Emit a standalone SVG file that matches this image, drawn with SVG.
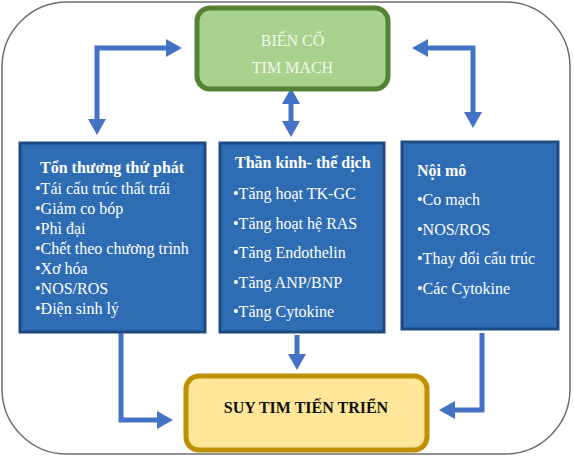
<svg xmlns="http://www.w3.org/2000/svg" width="574" height="460" viewBox="0 0 574 460">
<defs>
<style>
.blue{fill:#2e6cb4;stroke:#1d4a80;stroke-width:3}
.t{font-family:"Liberation Serif","Times New Roman",serif;font-size:16px;fill:#ffffff}
.b{font-weight:bold}
.arr{fill:none;stroke:#4472c4;stroke-width:5;stroke-linejoin:miter}
</style>
<marker id="ah" markerUnits="userSpaceOnUse" markerWidth="16" markerHeight="18" refX="4" refY="9" orient="auto-start-reverse" viewBox="0 0 16 18">
<path d="M0,0 L16,9 L0,18 z" fill="#4472c4"/>
</marker>
</defs>
<rect x="2" y="2" width="568" height="452" rx="65" ry="65" fill="#ffffff" stroke="#6b6f75" stroke-width="1.5"/>
<g id="connectors">
<path class="arr" d="M97,123 V48 H170" marker-start="url(#ah)" marker-end="url(#ah)"/>
<path class="arr" d="M291,100 V125" marker-start="url(#ah)" marker-end="url(#ah)"/>
<path class="arr" d="M424,48 H473 V116" marker-start="url(#ah)" marker-end="url(#ah)"/>
<path class="arr" d="M121,333 V420 H161" marker-end="url(#ah)"/>
<path class="arr" d="M297,335 V358" marker-end="url(#ah)"/>
<path class="arr" d="M482,333 V410 H451" marker-end="url(#ah)"/>
</g>
<g id="bien-co">
<rect x="197" y="8" width="191" height="81" rx="13" ry="13" fill="#a9d18e" stroke="#548235" stroke-width="5"/>
<text class="t" x="292.5" y="46" text-anchor="middle" fill="#f2f7ec" style="fill:#f2f7ec">BIẾN CỐ</text>
<text class="t" x="292.5" y="73" text-anchor="middle" style="fill:#f2f7ec">TIM MACH</text>
</g>
<g id="ton-thuong">
<rect class="blue" x="20" y="143" width="185" height="189"/>
<text class="t b" x="40" y="173">Tổn thương thứ phát</text>
<text class="t" x="35" y="194">•Tái cấu trúc thất trái</text>
<text class="t" x="35" y="214">•Giảm co bóp</text>
<text class="t" x="35" y="234">•Phì đại</text>
<text class="t" x="35" y="254">•Chết theo chương trình</text>
<text class="t" x="35" y="274">•Xơ hóa</text>
<text class="t" x="35" y="294">•NOS/ROS</text>
<text class="t" x="35" y="314">•Điện sinh lý</text>
</g>
<g id="than-kinh">
<rect class="blue" x="220" y="143" width="164" height="189"/>
<text class="t b" x="235" y="168">Thần kinh- thể dịch</text>
<text class="t" x="233" y="199">•Tăng hoạt TK-GC</text>
<text class="t" x="233" y="228.5">•Tăng hoạt hệ RAS</text>
<text class="t" x="233" y="258">•Tăng Endothelin</text>
<text class="t" x="233" y="287.5">•Tăng ANP/BNP</text>
<text class="t" x="233" y="317">•Tăng Cytokine</text>
</g>
<g id="noi-mo">
<rect class="blue" x="402" y="142" width="156" height="187"/>
<text class="t b" x="417" y="176">Nội mô</text>
<text class="t" x="417" y="205">•Co mạch</text>
<text class="t" x="417" y="234.5">•NOS/ROS</text>
<text class="t" x="417" y="264">•Thay đổi cấu trúc</text>
<text class="t" x="417" y="293.5">•Các Cytokine</text>
</g>
<g id="suy-tim">
<rect x="186" y="376" width="241" height="74" rx="13" ry="13" fill="#ffe699" stroke="#bf9000" stroke-width="5"/>
<text class="t b" x="306" y="413" text-anchor="middle" style="fill:#111111">SUY TIM TIẾN TRIỂN</text>
</g>
</svg>
